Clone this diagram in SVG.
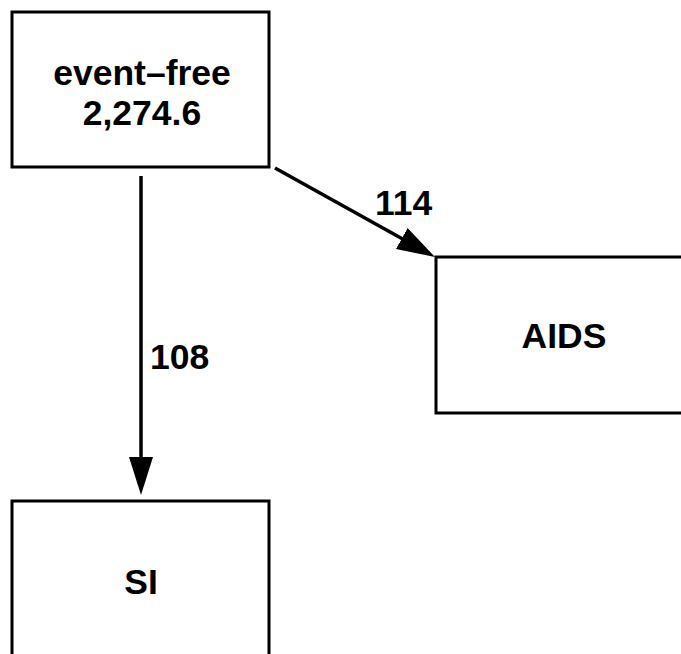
<svg xmlns="http://www.w3.org/2000/svg" width="681" height="654" viewBox="0 0 681 654">
<style>
.box{fill:#fff;stroke:#000;stroke-width:3}
.t{font-family:"Liberation Sans",Arial,sans-serif;font-weight:bold;font-size:35.5px;fill:#000}
.c{stroke:#000;stroke-width:3.5;fill:none}
</style>
<defs>
<marker id="ah" viewBox="0 0 38 24" refX="18" refY="12" markerWidth="38" markerHeight="24" markerUnits="userSpaceOnUse" orient="auto">
<polygon points="0,0 38,12 0,24" fill="#000"/>
</marker>
</defs>
<rect width="681" height="654" fill="#fff"/>
<g id="connectors">
<line class="c" x1="141" y1="176" x2="141" y2="475" marker-end="url(#ah)"/>
<line class="c" x1="275" y1="168" x2="417.5" y2="247.3" marker-end="url(#ah)"/>
<text class="t" x="150" y="369">108</text>
<text class="t" x="375" y="215">114</text>
</g>
<g id="event-free">
<rect class="box" x="12" y="12" width="257" height="155"/>
<text class="t" x="142" y="85" text-anchor="middle">event–free</text>
<text class="t" x="142" y="125" text-anchor="middle">2,274.6</text>
</g>
<g id="AIDS">
<rect class="box" x="436" y="257" width="260" height="156"/>
<text class="t" x="564" y="348" text-anchor="middle">AIDS</text>
</g>
<g id="SI">
<rect class="box" x="12" y="501" width="257" height="160"/>
<text class="t" x="141" y="594" text-anchor="middle">SI</text>
</g>
</svg>
